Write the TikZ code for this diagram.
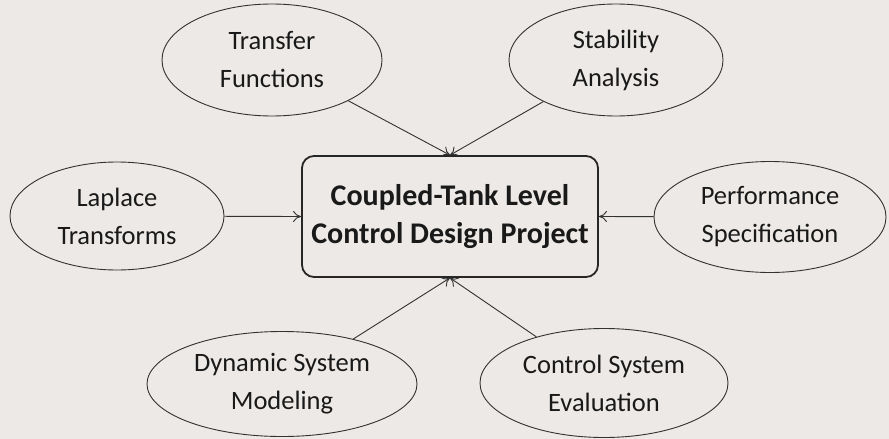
\documentclass[tikz,border=0pt]{standalone}
\usepackage{fontspec}
\setmainfont{Carlito}
\usepackage{tikz}
\usetikzlibrary{shapes.geometric, arrows.meta, positioning}
\definecolor{paper}{RGB}{236,233,230}
\definecolor{ink}{RGB}{50,50,50}

\begin{document}
\begin{tikzpicture}[x=1pt, y=-1pt,
        topic/.style={ellipse, draw=ink, line width=0.9pt, inner sep=0pt, align=center, text=black!90, font=\fontsize{26.5}{38}\selectfont},
        project/.style={rectangle, rounded corners=12pt, draw=black!85, line width=1.8pt, minimum width=296pt, minimum height=121pt, inner sep=0pt, align=center, text=black!90, font=\bfseries\fontsize{30}{38}\selectfont},
        >={To[length=8pt, width=11pt]}]
                        \fill[paper] (0, 0) rectangle (889, 439);

                        \node[project] (p) at (450, 216.5) {Coupled-Tank Level\\Control Design Project};
                        \node[topic, minimum width=220pt, minimum height=112pt] (tf) at (272, 60) {Transfer\\Functions};
                        \node[topic, minimum width=214pt, minimum height=112pt] (sa) at (616, 60) {Stability\\Analysis};
                        \node[topic, minimum width=214pt, minimum height=108pt] (lt) at (117, 216) {Laplace\\Transforms};
                        \node[topic, minimum width=232pt, minimum height=111pt] (ps) at (770, 217) {Performance\\Specification};
                        \node[topic, minimum width=270pt, minimum height=105pt] (dm) at (282, 384) {Dynamic System\\Modeling};
                        \node[topic, minimum width=248pt, minimum height=109pt] (ce) at (604, 383) {Control System\\Evaluation};

                        \draw[ink, line width=0.9pt]
                        (tf) edge[->] (p.north)
                        (sa) edge[->] (p.north)
                        (lt) edge[->] (p.west)
                        (ps) edge[->] (p.east)
                        (dm) edge[->] (p.south)
                        (ce) edge[->] (p.south);
                    \end{tikzpicture}
\end{document}
